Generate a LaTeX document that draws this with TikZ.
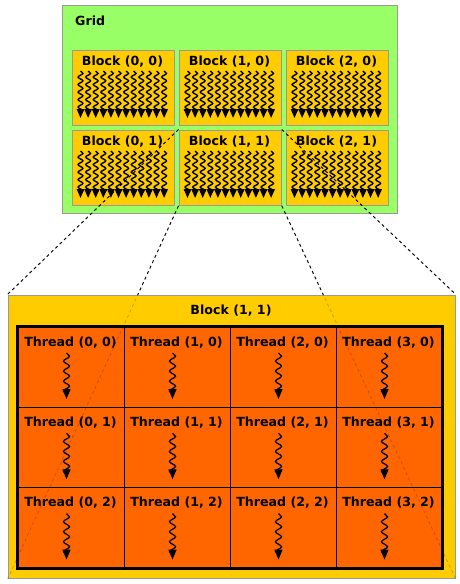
\documentclass[tikz,border=0pt]{standalone}
\usepackage{fontspec}
\setmainfont{DejaVu Sans}
\usetikzlibrary{decorations.pathmorphing, arrows.meta}
\definecolor{gridgreen}{HTML}{99FF66}
\definecolor{blockyellow}{HTML}{FFCC00}
\definecolor{threadorange}{HTML}{FF6600}
\definecolor{edgegray}{HTML}{999999}

\begin{document}
\begin{tikzpicture}
      [x=1pt, y=-1pt,
        every node/.style={font=\fontsize{12.6}{14}\selectfont\bfseries, inner sep=0pt},
        box/.style={draw=edgegray, line width=1.3pt, anchor=north west},
        blk/.style={box, fill=blockyellow, minimum width=102pt, minimum height=75pt},
        cell/.style={draw=black, line width=1pt, fill=threadorange, anchor=north west,
                     minimum width=106pt, minimum height=80.3pt},
        warp/.style={decorate, line width=1.4pt, -{Triangle[width=7.4pt, length=9pt]},
                     decoration={snake, amplitude=2.4pt, segment length=7.5pt, post length=2pt}},
        thread/.style={warp, line width=1.3pt, -{Triangle[width=8pt, length=10pt]},
                     decoration={snake, amplitude=3pt, segment length=10pt, post length=3pt}},
        wire/.style={dash pattern=on 3pt off 3pt, line width=0.9pt}]
      \useasboundingbox (0,0) rectangle (459,584);
      % grid of blocks
      \node[box, fill=gridgreen, minimum width=335pt, minimum height=208pt] (grid) at (62,5) {};
      \node[anchor=west] (gridname) at (75,21) {Grid};
      \foreach \i in {0,1,2} \foreach \j in {0,1} {
        \node[blk] (b\i\j) at (71.5+107*\i, 49.5+80*\j) {};
        \node (bname\i\j) at (122.5+107*\i, 61.5+80*\j) {Block (\i, \j)};
        \foreach \k in {0,...,11}
          \draw[warp] (80.5+7.6*\k+107*\i, 71+80*\j) -- ++(0,47);
      }
      % block (1, 1) blown up
      \node[box, fill=blockyellow, minimum width=447pt, minimum height=283.5pt] (big) at (7.5,294.5) {};
      \node (bigname) at (231,311) {Block (1, 1)};
      \foreach \i in {0,...,3} \foreach \j in {0,1,2} {
        \node[cell] (t\i\j) at (17.5+106*\i, 326.5+80.3*\j) {};
        \node (tname\i\j) at (70.5+106*\i, 342.5+80.3*\j) {Thread (\i, \j)};
        \draw[thread] (66.5+106*\i, 353+80.3*\j) -- ++(0,46);
      }
      \draw[line width=3pt] (t00.north west) rectangle (t32.south east);
      % zoom lines
      \begin{scope}
        \clip (0,0) rectangle (459,294.5);
        \foreach \c in {north west, north east, south west, south east}
          \draw[wire] (b11.\c) -- (big.\c);
      \end{scope}
      \foreach \c in {north west, north east, south west, south east}
        \draw[wire, draw opacity=0.2] (b11.\c) -- (big.\c);
    \end{tikzpicture}
\end{document}
